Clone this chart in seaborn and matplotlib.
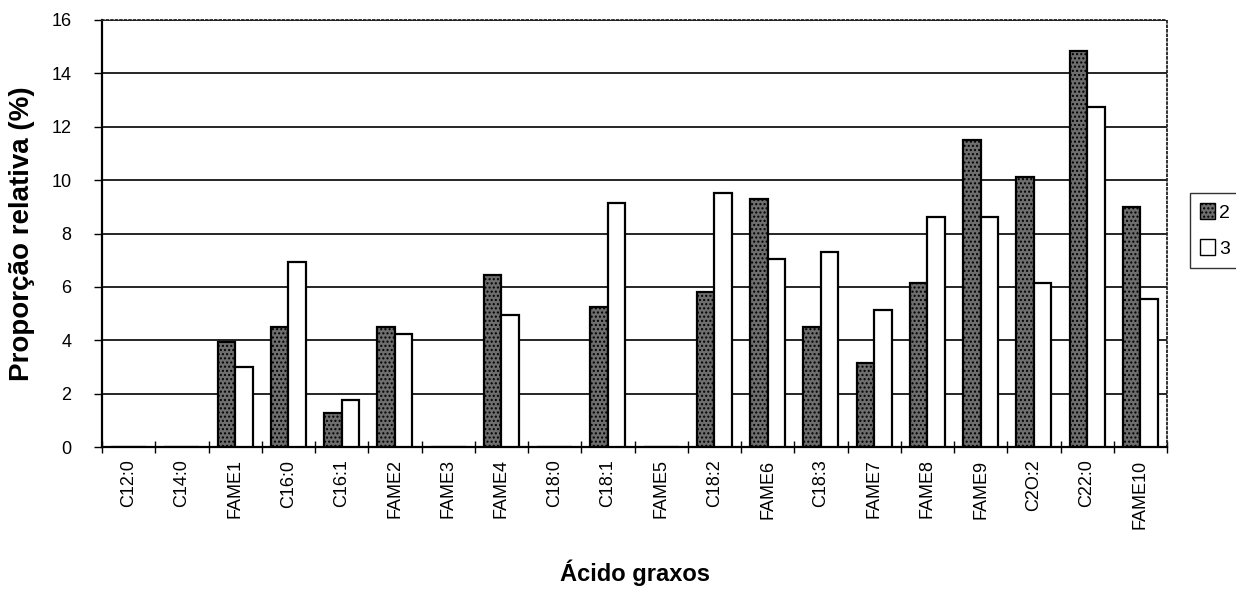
import matplotlib
matplotlib.use("Agg")
import matplotlib.pyplot as plt
import seaborn as sns
import pandas as pd
import numpy as np
from matplotlib.ticker import MultipleLocator, FixedLocator
from matplotlib.patches import Patch

categories = ["C12:0", "C14:0", "FAME1", "C16:0", "C16:1", "FAME2", "FAME3", "FAME4",
              "C18:0", "C18:1", "FAME5", "C18:2", "FAME6", "C18:3", "FAME7", "FAME8",
              "FAME9", "C2O:2", "C22:0", "FAME10"]
serie2 = [0, 0, 3.95, 4.5, 1.27, 4.5, 0, 6.45, 0, 5.25, 0, 5.8, 9.3, 4.5, 3.15, 6.15,
          11.5, 10.1, 14.85, 9.0]
serie3 = [0, 0, 3.0, 6.95, 1.75, 4.25, 0, 4.95, 0, 9.15, 0, 9.5, 7.05, 7.3, 5.12, 8.6,
          8.62, 6.15, 12.75, 5.55]
series_names = ["2", "3"]

df = pd.DataFrame({
    "cat": categories * 2,
    "val": serie2 + serie3,
    "serie": [series_names[0]] * len(categories) + [series_names[1]] * len(categories),
})

sns.set_style("white")
plt.rcParams['font.family'] = ['Liberation Sans', 'DejaVu Sans']
plt.rcParams['text.color'] = 'black'
plt.rcParams['axes.labelcolor'] = 'black'
plt.rcParams['xtick.color'] = 'black'
plt.rcParams['ytick.color'] = 'black'

fig = plt.figure(figsize=(12.36, 5.94), dpi=100)
ax = fig.add_axes([102/1236, 1-447/594, (1167-102)/1236, (447-20)/594])

sns.barplot(data=df, x="cat", y="val", hue="serie", order=categories,
            palette={"2": "#6e6e6e", "3": "#ffffff"}, edgecolor="black",
            linewidth=1.6, width=0.66, gap=0, ax=ax, legend=False, zorder=3)

for p in ax.patches[:len(categories)]:
    p.set_hatch("....")

ax.set_ylim(0, 16)
ax.set_xlim(-0.5, len(categories) - 0.5)
ax.yaxis.set_major_locator(MultipleLocator(2))
ax.grid(axis="y", color="black", linewidth=1.2, zorder=0)
ax.set_axisbelow(True)

ax.tick_params(axis="x", which="major", length=0, pad=9)
ax.xaxis.set_minor_locator(FixedLocator(np.arange(-0.5, len(categories), 1)))
ax.tick_params(axis="x", which="minor", length=8, width=1, direction="inout", bottom=True)
ax.tick_params(axis="y", which="major", length=6, width=1, direction="out", left=True,
               labelsize=13, pad=16)
plt.setp(ax.get_xticklabels(), rotation=90, fontsize=13)

for s in ["left", "bottom"]:
    ax.spines[s].set_color("black")
    ax.spines[s].set_linewidth(1.6)
for s in ["top", "right"]:
    ax.spines[s].set_color("#222222")
    ax.spines[s].set_linestyle((0, (1, 1.5)))
    ax.spines[s].set_linewidth(1.3)

ax.set_xlabel("Ácido graxos", fontsize=17, fontweight="bold", labelpad=22)
ax.set_ylabel("Proporção relativa (%)", fontsize=20, fontweight="bold", labelpad=12)

handles = [Patch(facecolor="#6e6e6e", edgecolor="black", hatch="....", label="2"),
           Patch(facecolor="white", edgecolor="black", label="3")]
leg = fig.legend(handles=handles, loc="upper left", bbox_to_anchor=(1190/1236, 1-193/594),
                 frameon=True, fancybox=False, fontsize=14, handlelength=0.8,
                 handleheight=0.9, handletextpad=0.2, borderpad=0.5, labelspacing=0.9,
                 borderaxespad=0)
leg.get_frame().set_edgecolor("black")
leg.get_frame().set_linewidth(1.0)

fig.savefig("out.png", dpi=100)
